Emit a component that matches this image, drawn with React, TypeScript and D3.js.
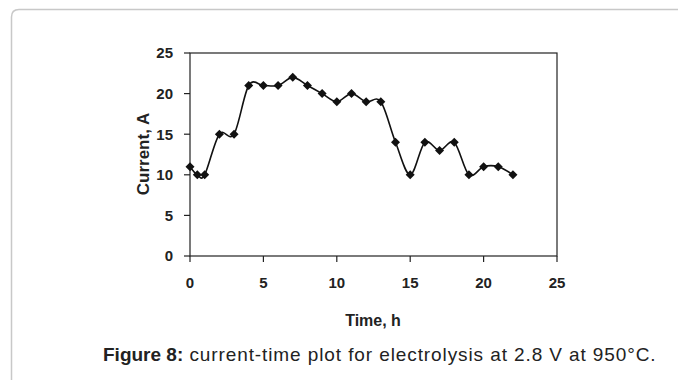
import React from "react";
import * as d3 from "d3";

const timeH = [0, 0.5, 1, 2, 3, 4, 5, 6, 7, 8, 9, 10, 11, 12, 13, 14, 15, 16, 17, 18, 19, 20, 21, 22];
const currentA = [11, 10, 10, 15, 15, 21, 21, 21, 22, 21, 20, 19, 20, 19, 19, 14, 10, 14, 13, 14, 10, 11, 11, 10];
const xTicks = [0, 5, 10, 15, 20, 25];
const yTicks = [0, 5, 10, 15, 20, 25];

const W = 678;
const H = 380;
const FONT = "'Liberation Sans', Arial, Helvetica, sans-serif";

export default function App() {
  const x = d3.scaleLinear().domain([0, 25]).range([190, 557]);
  const y = d3.scaleLinear().domain([0, 25]).range([256, 53]);
  const pts = timeH.map((t, i) => [x(t), y(currentA[i])] as [number, number]);
  const line = d3.line().curve(d3.curveCardinal.tension(0))(pts) || "";
  const r = 4.5;
  return (
    <div style={{ position: "fixed", left: 0, top: 0, width: W, height: H, background: "#fff" }}>
      <svg width={W} height={H} style={{ display: "block" }}>
        <path
          d={`M11.5,${H + 5} L11.5,17 Q11.5,9.5 19,9.5 L${W + 20},9.5`}
          fill="none"
          stroke="#c8c8c8"
          strokeWidth={1.5}
        />
        <rect x={x(0)} y={y(25)} width={x(25) - x(0)} height={y(0) - y(25)} fill="none" stroke="#222" strokeWidth={1.2} />
        {yTicks.map((v) => (
          <g key={"y" + v}>
            <line x1={x(0) - 6} x2={x(0)} y1={y(v)} y2={y(v)} stroke="#222" strokeWidth={1.2} />
            <text x={x(0) - 17} y={y(v)} dy="0.36em" textAnchor="end" fontFamily={FONT} fontWeight="bold" fontSize={15} fill="#222">
              {v}
            </text>
          </g>
        ))}
        {xTicks.map((v) => (
          <g key={"x" + v}>
            <line x1={x(v)} x2={x(v)} y1={y(0)} y2={y(0) + 6} stroke="#222" strokeWidth={1.2} />
            <text x={x(v)} y={288} textAnchor="middle" fontFamily={FONT} fontWeight="bold" fontSize={15} fill="#222">
              {v}
            </text>
          </g>
        ))}
        <path d={line} fill="none" stroke="#111" strokeWidth={1.6} />
        {pts.map(([px, py], i) => (
          <path key={i} d={`M${px},${py - r} L${px + r},${py} L${px},${py + r} L${px - r},${py} Z`} fill="#111" />
        ))}
        <text
          transform={`translate(149,154) rotate(-90)`}
          textAnchor="middle"
          fontFamily={FONT}
          fontWeight="bold"
          fontSize={17}
          fill="#222"
        >
          Current, A
        </text>
        <text x={373} y={326} textAnchor="middle" fontFamily={FONT} fontWeight="bold" fontSize={16} fill="#222">
          Time, h
        </text>
        <text x={103} y={361} fontFamily={FONT} fontSize={19} fill="#222">
          <tspan fontWeight="bold">Figure 8:</tspan>
          <tspan letterSpacing={0.9}> current-time plot for electrolysis at 2.8 V at 950°C.</tspan>
        </text>
      </svg>
    </div>
  );
}
